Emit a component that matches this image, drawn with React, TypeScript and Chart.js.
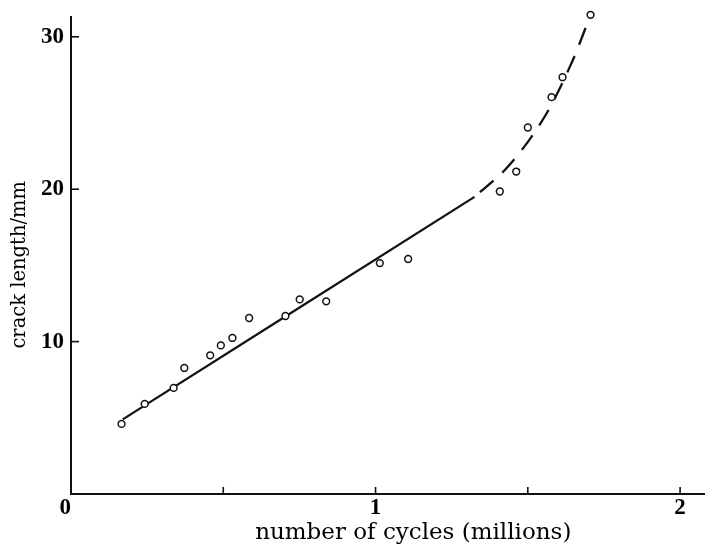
import React, { useEffect, useRef } from "react";
import { Chart, registerables } from "chart.js";

Chart.register(...registerables);

// Observed crack lengths (open circles)
const cyclesObs = [0.166, 0.242, 0.337, 0.372, 0.457, 0.492, 0.53, 0.585, 0.704, 0.751, 0.838, 1.014, 1.107, 1.408, 1.462, 1.5, 1.578, 1.614, 1.706];
const lengthObs = [4.6, 5.91, 6.96, 8.27, 9.1, 9.75, 10.24, 11.55, 11.68, 12.77, 12.64, 15.15, 15.42, 19.85, 21.16, 24.05, 26.04, 27.35, 31.44];

// Solid fitted line
const fitCycles = [0.17, 0.7, 1.325];
const fitLength = [4.9, 11.6, 19.5];

// Dashed extrapolated curve
const dashCycles = [1.325, 1.435, 1.56, 1.649, 1.706];
const dashLength = [19.5, 21.49, 24.92, 28.53, 31.44];

// Axis ticks
const xTickValues = [0, 0.5, 1, 1.5, 2];
const xTickLabels = ["0  ", "", "1", "", "2"];
const yTickValues = [0, 10, 20, 30];
const yTickLabels = ["", "10", "20", "30"];

const xTitle = "number of cycles (millions)";
const yTitle = "crack length/mm   ";

const FONT = "'DejaVu Serif', serif";
const TICK_FONT = "'Liberation Serif', serif";

const tickMarks = {
  id: "tickMarks",
  afterDraw(chart: any) {
    const { ctx, scales, chartArea } = chart;
    const x = scales.x;
    const y = scales.y;
    ctx.save();
    ctx.strokeStyle = "#111";
    ctx.lineWidth = 1.6;
    yTickValues.forEach((v) => {
      if (v === 0) return;
      const py = y.getPixelForValue(v);
      ctx.beginPath();
      ctx.moveTo(chartArea.left, py);
      ctx.lineTo(chartArea.left + 8, py);
      ctx.stroke();
    });
    xTickValues.forEach((v) => {
      if (v === 0) return;
      const px = x.getPixelForValue(v);
      ctx.beginPath();
      ctx.moveTo(px, chartArea.bottom);
      ctx.lineTo(px, chartArea.bottom - 7);
      ctx.stroke();
    });
    ctx.restore();
  },
};

export default function App() {
  const ref = useRef<HTMLCanvasElement | null>(null);

  useEffect(() => {
    if (!ref.current) return;
    const chart = new Chart(ref.current, {
      type: "scatter",
      data: {
        datasets: [
          {
            label: "observed",
            data: cyclesObs.map((c, i) => ({ x: c, y: lengthObs[i] })),
            showLine: false,
            clip: false,
            pointStyle: "circle",
            pointRadius: 3.4,
            pointBorderWidth: 1.5,
            pointBorderColor: "#111",
            pointBackgroundColor: "#fff",
          } as any,
          {
            label: "fit",
            data: fitCycles.map((c, i) => ({ x: c, y: fitLength[i] })),
            showLine: true,
            clip: false,
            borderColor: "#111",
            borderWidth: 2.2,
            pointRadius: 0,
            tension: 0,
          } as any,
          {
            label: "extrapolated",
            data: dashCycles.map((c, i) => ({ x: c, y: dashLength[i] })),
            showLine: true,
            clip: false,
            borderColor: "#111",
            borderWidth: 2.3,
            borderDash: [18, 12],
            borderDashOffset: 23,
            pointRadius: 0,
            cubicInterpolationMode: "monotone",
          } as any,
        ],
      },
      options: {
        responsive: false,
        animation: false,
        maintainAspectRatio: false,
        layout: { padding: { top: 17, left: 0, right: 0, bottom: 0 } },
        plugins: {
          legend: { display: false },
          tooltip: { enabled: false },
          title: { display: false },
        },
        elements: { line: { borderCapStyle: "butt" } },
        scales: {
          x: {
            type: "linear",
            min: 0,
            max: 2.2476,
            grid: { display: false, drawTicks: false },
            border: { display: true, color: "#111", width: 2 },
            afterBuildTicks: (scale: any) => {
              scale.ticks = xTickValues.map((v) => ({ value: v }));
            },
            afterFit: (scale: any) => {
              scale.height = 53;
            },
            ticks: {
              autoSkip: false,
              maxRotation: 0,
              padding: 0,
              color: "#000",
              font: { family: TICK_FONT, size: 23, weight: "bold" },
              callback: (v: any) => {
                const i = xTickValues.indexOf(Number(v));
                return i >= 0 ? xTickLabels[i] : "";
              },
            },
            title: {
              display: true,
              text: xTitle,
              color: "#000",
              font: { family: FONT, size: 23 },
              padding: { top: 0, bottom: 0 },
            },
          },
          y: {
            type: "linear",
            min: 0,
            max: 31.3,
            grid: { display: false, drawTicks: false },
            border: { display: true, color: "#111", width: 2 },
            afterBuildTicks: (scale: any) => {
              scale.ticks = yTickValues.map((v) => ({ value: v }));
            },
            afterFit: (scale: any) => {
              scale.width = 71;
            },
            ticks: {
              autoSkip: false,
              padding: 7,
              color: "#000",
              font: { family: TICK_FONT, size: 23, weight: "bold", lineHeight: 0.8 },
              callback: (v: any) => {
                const i = yTickValues.indexOf(Number(v));
                return i >= 0 ? yTickLabels[i] : "";
              },
            },
            title: {
              display: true,
              text: yTitle,
              color: "#000",
              font: { family: FONT, size: 19.5 },
              padding: { top: 8, bottom: 0 },
            },
          },
        },
      },
      plugins: [tickMarks],
    });
    return () => chart.destroy();
  }, []);

  return (
    <div
      style={{
        position: "fixed",
        left: 0,
        top: 0,
        width: 705,
        height: 547,
        overflow: "hidden",
        background: "#fff",
      }}
    >
      <canvas ref={ref} width={761} height={547} style={{ display: "block" }} />
    </div>
  );
}
